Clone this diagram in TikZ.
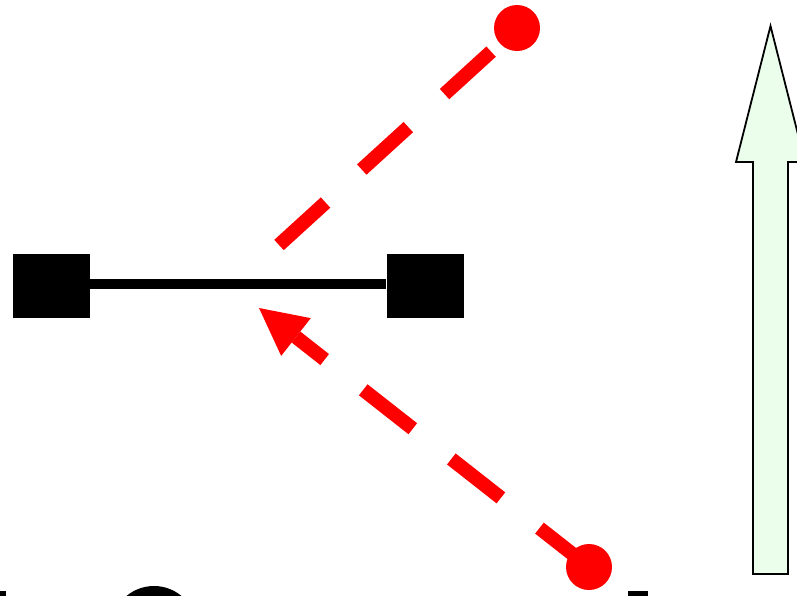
\documentclass[tikz,border=0pt]{standalone}
\usepackage{tikz}
\usetikzlibrary{arrows.meta}
\definecolor{raycol}{RGB}{255,0,0}
\definecolor{palegreen}{RGB}{235,253,235}

\begin{document}
\begin{tikzpicture}[x=1pt,y=-1pt,
    tab/.style={draw=none,fill=black,rectangle,inner sep=0pt,minimum width=77pt,minimum height=64pt},
    dot/.style={draw=none,fill=raycol,circle,inner sep=0pt,minimum size=46pt},
    ray/.style={raycol,line width=14pt,dash pattern=on 63pt off 49pt},
    bar/.style={black,line width=10pt},
    uparrow/.style={draw=black,line width=1.8pt,fill=palegreen,line join=miter}]
    \clip (0,0) rectangle (797,595);
    \fill[white] (0,0) rectangle (797,595);

    \node[tab] (lefttab) at (51.5,286) {};
    \node[tab] (righttab) at (425,286) {};
    \draw[bar] (lefttab.east |- 0,284) -- (righttab.west |- 0,284);

    \node[dot] (topdot) at (517,28) {};
    \node[dot] (botdot) at (589,567) {};
    \coordinate (raystart) at (279,245);
    \coordinate (hit) at (259,308);

    \draw[ray] (raystart) -- (topdot.center);
    \draw[ray,-{Triangle[length=47pt,width=48pt,line width=0pt]}] (botdot.center) -- (hit);

    \draw[uparrow] (753,574) -- (753,162) -- (736,162) -- (770.5,26) -- (805,162)
      -- (788,162) -- (788,574) -- cycle;

    \fill[black] (-5,591) rectangle (6,600);
    \fill[black] (154,629) circle (43);
    \fill[black] (628,591) rectangle (648,600);
  \end{tikzpicture}
\end{document}
